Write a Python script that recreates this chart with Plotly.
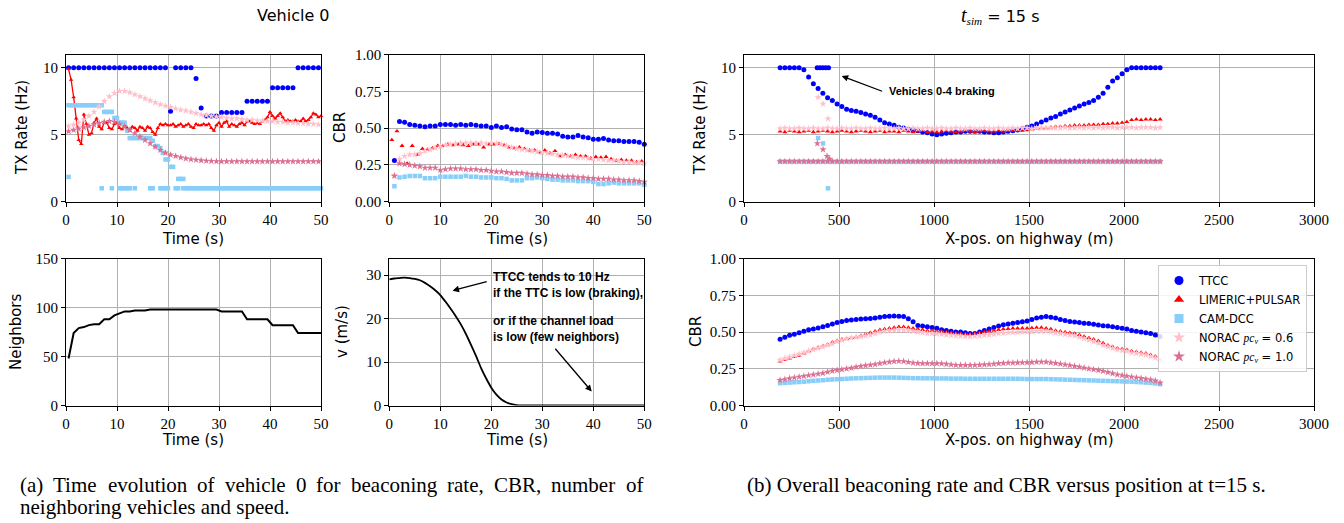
import plotly.graph_objects as go

# ---------------- data: vehicle 0, time evolution ----------------
TIME_1S = [0.5, 1.5, 2.5, 3.5, 4.5, 5.5, 6.5, 7.5, 8.5, 9.5, 10.5, 11.5, 12.5, 13.5, 14.5, 15.5, 16.5,
           17.5, 18.5, 19.5, 20.5, 21.5, 22.5, 23.5, 24.5, 25.5, 26.5, 27.5, 28.5, 29.5, 30.5, 31.5, 32.5,
           33.5, 34.5, 35.5, 36.5, 37.5, 38.5, 39.5, 40.5, 41.5, 42.5, 43.5, 44.5, 45.5, 46.5, 47.5, 48.5, 49.5]
TIME_HALF = [0.5, 1.0, 1.5, 2.0, 2.5, 3.0, 3.5, 4.0, 4.5, 5.0, 5.5, 6.0, 6.5, 7.0, 7.5, 8.0, 8.5, 9.0, 9.5, 10.0,
             10.5, 11.0, 11.5, 12.0, 12.5, 13.0, 13.5, 14.0, 14.5, 15.0, 15.5, 16.0, 16.5, 17.0, 17.5, 18.0, 18.5,
             19.0, 19.5, 20.0, 20.5, 21.0, 21.5, 22.0, 22.5, 23.0, 23.5, 24.0, 24.5, 25.0, 25.5, 26.0, 26.5, 27.0,
             27.5, 28.0, 28.5, 29.0, 29.5, 30.0, 30.5, 31.0, 31.5, 32.0, 32.5, 33.0, 33.5, 34.0, 34.5, 35.0, 35.5,
             36.0, 36.5, 37.0, 37.5, 38.0, 38.5, 39.0, 39.5, 40.0, 40.5, 41.0, 41.5, 42.0, 42.5, 43.0, 43.5, 44.0,
             44.5, 45.0, 45.5, 46.0, 46.5, 47.0, 47.5, 48.0, 48.5, 49.0, 49.5, 50.0]
TIME_CBR = [1, 2, 3, 4, 5, 6, 7, 8, 9, 10, 11, 12, 13, 14, 15, 16, 17, 18, 19, 20, 21, 22, 23, 24, 25,
            26, 27, 28, 29, 30, 31, 32, 33, 34, 35, 36, 37, 38, 39, 40, 41, 42, 43, 44, 45, 46, 47, 48, 49, 50]

TTCC_RATE_T = [10, 10, 10, 10, 10, 10, 10, 10, 10, 10, 10, 10, 10, 10, 10, 10, 10, 10, 10, 10,
               6.75, 10, 10, 10, 10, 9.2, 7.0, 6.4, 6.4, 6.4,
               6.65, 6.65, 6.65, 6.65, 6.65, 7.5, 7.5, 7.5, 7.5, 7.5,
               8.5, 8.5, 8.5, 8.5, 8.5, 10, 10, 10, 10, 10]
LIMERIC_RATE_T = [9.9, 9.1, 7.8, 6.2, 4.6, 4.3, 6.5, 5.8, 5.0, 5.1, 5.9, 6.2, 5.6, 5.4, 5.9, 5.9, 5.5, 5.4, 5.8, 5.9,
                  5.5, 5.4, 5.7, 5.5, 5.3, 5.6, 5.5, 5.3, 5.6, 5.5, 5.3, 5.6, 5.5, 5.2, 5.0, 5.5, 5.8, 5.7, 5.8, 5.7,
                  5.7, 5.8, 5.6, 5.7, 5.8, 5.6, 5.7, 5.8, 5.6, 5.5, 5.8, 5.7, 5.7, 5.8, 5.7, 5.8, 5.5, 5.3, 5.7, 5.9,
                  5.6, 5.9, 6.0, 5.6, 5.8, 5.7, 5.6, 5.8, 5.9, 5.7, 6.0, 6.0, 5.9, 5.8, 5.9, 5.8, 6.0, 6.1, 6.3, 6.7,
                  6.4, 6.2, 6.4, 6.6, 6.3, 6.0, 6.1, 6.0, 6.0, 6.1, 6.0, 6.0, 6.2, 6.0, 6.1, 6.3, 6.6, 6.5, 6.3, 6.4]
CAM_T = [0.5, 0.5, 1.0, 1.5, 2.0, 2.5, 3.0, 3.5, 4.0, 4.5, 5.0, 5.5, 6.0, 6.5, 7.0, 7.0, 7.5, 8.0, 8.5, 9.0, 9.0,
         9.5, 10.0, 10.5, 10.5, 11.0, 11.0, 11.5, 11.5, 12.0, 12.0, 12.5, 12.5, 13.0, 13.5, 13.5, 14.0, 14.5, 15.0,
         15.5, 16.0, 16.5, 16.5, 17.0, 17.0, 17.5, 18.0, 18.5, 18.5, 19.0, 19.0, 19.5, 19.5, 20.0, 20.0, 20.5, 21.0,
         21.5, 22.0, 22.0, 22.5, 23.0, 23.0,
         23.5, 24.0, 24.5, 25.0, 25.5, 26.0, 26.5, 27.0, 27.5, 28.0, 28.5, 29.0, 29.5, 30.0, 30.5, 31.0, 31.5, 32.0,
         32.5, 33.0, 33.5, 34.0, 34.5, 35.0, 35.5, 36.0, 36.5, 37.0, 37.5, 38.0, 38.5, 39.0, 39.5, 40.0, 40.5, 41.0,
         41.5, 42.0, 42.5, 43.0, 43.5, 44.0, 44.5, 45.0, 45.5, 46.0, 46.5, 47.0, 47.5, 48.0, 48.5, 49.0, 49.5, 50.0]
CAM_RATE_T = [7.2, 1.85, 7.2, 7.2, 7.2, 7.2, 7.2, 7.2, 7.2, 7.2, 7.2, 7.2, 7.2, 7.2, 7.2, 1.0, 6.7, 6.7, 6.7, 6.7, 1.0,
              6.25, 6.25, 5.9, 1.0, 5.9, 1.0, 5.9, 1.0, 5.3, 1.0, 4.75, 1.0, 4.75, 4.75, 1.0, 4.75, 4.75, 4.75,
              4.75, 4.75, 4.75, 1.0, 4.55, 1.0, 4.15, 4.15, 4.0, 1.0, 3.65, 1.0, 3.15, 1.0, 3.15, 1.0, 2.6, 2.6,
              1.0, 1.7, 1.0, 1.7, 1.7, 1.0,
              1.0, 1.0, 1.0, 1.0, 1.0, 1.0, 1.0, 1.0, 1.0, 1.0, 1.0, 1.0, 1.0, 1.0, 1.0, 1.0, 1.0, 1.0,
              1.0, 1.0, 1.0, 1.0, 1.0, 1.0, 1.0, 1.0, 1.0, 1.0, 1.0, 1.0, 1.0, 1.0, 1.0, 1.0, 1.0, 1.0,
              1.0, 1.0, 1.0, 1.0, 1.0, 1.0, 1.0, 1.0, 1.0, 1.0, 1.0, 1.0, 1.0, 1.0, 1.0, 1.0, 1.0, 1.0]
NORAC06_RATE_T = [5.65, 5.75, 5.9, 6.1, 6.4, 6.7, 7.1, 7.5, 7.85, 8.1,
                  8.25, 8.25, 8.15, 8.0, 7.85, 7.7, 7.55, 7.4, 7.25, 7.15,
                  7.05, 6.95, 6.85, 6.8, 6.7, 6.6, 6.5, 6.45, 6.4, 6.35,
                  6.3, 6.25, 6.2, 6.2, 6.15, 6.1, 6.1, 6.05, 6.05, 6.0,
                  6.0, 5.95, 5.95, 5.9, 5.9, 5.85, 5.85, 5.8, 5.8, 5.75]
NORAC10_RATE_T = [5.25, 5.35, 5.45, 5.55, 5.65, 5.75, 5.85, 5.95, 6.0, 5.95,
                  5.8, 5.6, 5.35, 5.1, 4.85, 4.6, 4.35, 4.1, 3.85, 3.65,
                  3.5, 3.4, 3.3, 3.22, 3.16, 3.12, 3.08, 3.05, 3.03, 3.01,
                  3.0, 3.0, 3.0, 3.0, 3.0, 3.0, 3.0, 3.0, 3.0, 3.0,
                  3.0, 3.0, 3.0, 3.0, 3.0, 3.0, 3.0, 3.0, 3.0, 3.0]

TTCC_CBR_T = [0.28, 0.545, 0.54, 0.525, 0.52, 0.515, 0.51, 0.515, 0.515, 0.525,
              0.525, 0.525, 0.52, 0.525, 0.52, 0.525, 0.52, 0.515, 0.515, 0.505,
              0.515, 0.505, 0.51, 0.495, 0.49, 0.49, 0.475, 0.465, 0.475, 0.47,
              0.465, 0.465, 0.46, 0.445, 0.44, 0.44, 0.45, 0.44, 0.435, 0.425,
              0.425, 0.43, 0.42, 0.415, 0.415, 0.41, 0.41, 0.41, 0.405, 0.39]
LIMERIC_CBR_T = [0.42, 0.48, 0.38, 0.26, 0.38, 0.32, 0.36, 0.355, 0.365, 0.38,
                 0.38, 0.39, 0.385, 0.39, 0.385, 0.38, 0.39, 0.39, 0.37, 0.39,
                 0.39, 0.395, 0.385, 0.37, 0.365, 0.37, 0.36, 0.35, 0.35, 0.335,
                 0.35, 0.33, 0.345, 0.31, 0.32, 0.31, 0.32, 0.31, 0.31, 0.295,
                 0.305, 0.3, 0.305, 0.29, 0.28, 0.285, 0.28, 0.28, 0.27, 0.275]
CAM_CBR_T = [0.105, 0.165, 0.17, 0.175, 0.175, 0.175, 0.16, 0.16, 0.16, 0.17,
             0.17, 0.17, 0.17, 0.17, 0.175, 0.17, 0.17, 0.165, 0.165, 0.165,
             0.16, 0.16, 0.155, 0.145, 0.145, 0.145, 0.16, 0.16, 0.165, 0.16,
             0.155, 0.15, 0.15, 0.145, 0.145, 0.145, 0.14, 0.14, 0.14, 0.135,
             0.12, 0.12, 0.125, 0.13, 0.125, 0.125, 0.125, 0.125, 0.125, 0.115]
NORAC06_CBR_T = [0.18, 0.29, 0.31, 0.32, 0.32, 0.33, 0.345, 0.355, 0.365, 0.375,
                 0.385, 0.39, 0.395, 0.4, 0.4, 0.4, 0.4, 0.4, 0.395, 0.4,
                 0.395, 0.39, 0.38, 0.37, 0.36, 0.355, 0.35, 0.345, 0.34, 0.335,
                 0.33, 0.325, 0.32, 0.315, 0.31, 0.305, 0.3, 0.3, 0.295, 0.29,
                 0.29, 0.285, 0.28, 0.28, 0.275, 0.27, 0.27, 0.265, 0.265, 0.26]
NORAC10_CBR_T = [0.175, 0.26, 0.255, 0.25, 0.245, 0.24, 0.23, 0.23, 0.23, 0.215,
                 0.22, 0.225, 0.225, 0.225, 0.22, 0.22, 0.22, 0.215, 0.215, 0.21,
                 0.205, 0.205, 0.2, 0.195, 0.195, 0.195, 0.19, 0.185, 0.185, 0.18,
                 0.18, 0.175, 0.175, 0.17, 0.17, 0.17, 0.165, 0.165, 0.16, 0.16,
                 0.155, 0.155, 0.155, 0.15, 0.15, 0.145, 0.145, 0.145, 0.14, 0.135]

NEIGH_T = TIME_1S + [50.0]
NEIGHBORS = [48, 74, 79, 80, 82, 83, 83, 88, 88, 92,
             94, 96, 96, 97, 97, 97, 98, 98, 98, 98,
             98, 98, 98, 98, 98, 98, 98, 98, 98, 98,
             96, 96, 96, 96, 96, 88, 88, 88, 88, 88,
             82, 82, 82, 82, 82, 74, 74, 74, 74, 74, 74]
SPEED_T = [0, 1, 2, 3, 4, 5, 6, 7, 8, 9, 10, 11, 12, 13, 14, 15, 16, 17, 18, 19, 20, 21, 22, 23, 24, 25,
           26, 27, 28, 29, 30, 31, 32, 33, 34, 35, 36, 37, 38, 39, 40, 41, 42, 43, 44, 45, 46, 47, 48, 49, 50]
SPEED = [29.0, 29.2, 29.3, 29.4, 29.3, 29.1, 28.8, 28.2, 27.4, 26.5,
         25.4, 23.9, 22.3, 20.6, 18.7, 16.5, 14.0, 11.4, 8.6, 6.2,
         4.1, 2.5, 1.4, 0.7, 0.3, 0.1, 0.03, 0, 0, 0,
         0, 0, 0, 0, 0, 0, 0, 0, 0, 0,
         0, 0, 0, 0, 0, 0, 0, 0, 0, 0, 0]

# ---------------- data: all vehicles at t_sim = 15 s ----------------
POS = [190, 215, 240, 265, 290, 315, 340, 365, 390, 415, 440, 465, 490, 515, 540, 565, 590, 615, 640, 665,
       690, 715, 740, 765, 790, 815, 840, 865, 890, 915, 940, 965, 990, 1015, 1040, 1065, 1090, 1115, 1140, 1165,
       1190, 1215, 1240, 1265, 1290, 1315, 1340, 1365, 1390, 1415, 1440, 1465, 1490, 1515, 1540, 1565, 1590, 1615,
       1640, 1665, 1690, 1715, 1740, 1765, 1790, 1815, 1840, 1865, 1890, 1915, 1940, 1965, 1990, 2015, 2040, 2065,
       2090, 2115, 2140, 2165, 2190]
TTCC_RATE_X = [10, 10, 10, 10, 10, 9.85, 9.3, 8.8, 8.45, 8.1,
               7.75, 7.55, 7.3, 7.1, 6.9, 6.8, 6.75, 6.65, 6.55, 6.45,
               6.3, 6.1, 5.9, 5.8, 5.7, 5.55, 5.5, 5.4, 5.35, 5.3,
               5.2, 5.15, 5.05, 5.0, 5.05, 5.1, 5.15, 5.2, 5.2, 5.25,
               5.25, 5.25, 5.25, 5.2, 5.2, 5.15, 5.15, 5.2, 5.25, 5.3,
               5.35, 5.45, 5.55, 5.65, 5.8, 5.95, 6.1, 6.25, 6.35, 6.55,
               6.7, 6.85, 7.0, 7.15, 7.3, 7.4, 7.55, 7.8, 8.1, 8.55,
               9.0, 9.25, 9.55, 9.85, 10, 10, 10, 10, 10, 10, 10]
LIMERIC_RATE_X = [5.25, 5.2, 5.3, 5.25, 5.2, 5.25, 5.3, 5.2, 5.25, 5.3,
                  5.25, 5.2, 5.25, 5.3, 5.25, 5.2, 5.25, 5.3, 5.25, 5.2,
                  5.25, 5.3, 5.2, 5.25, 5.25, 5.2, 5.3, 5.25, 5.2, 5.25,
                  5.3, 5.2, 5.25, 5.2, 5.25, 5.3, 5.25, 5.2, 5.25, 5.3,
                  5.25, 5.2, 5.25, 5.3, 5.25, 5.25, 5.3, 5.25, 5.3, 5.3,
                  5.3, 5.3, 5.35, 5.4, 5.45, 5.5, 5.5, 5.55, 5.6, 5.6,
                  5.65, 5.65, 5.7, 5.7, 5.7, 5.75, 5.75, 5.75, 5.8, 5.8,
                  5.85, 5.85, 5.9, 5.95, 6.1, 6.15, 6.1, 6.15, 6.15, 6.1, 6.15]
CAM_RATE_X = [3.0, 3.0, 3.0, 3.0, 3.0, 3.0, 3.0, 3.0, 3.0, 3.0, 3.0, 3.0, 3.0, 3.0, 3.0, 3.0, 3.0, 3.0, 3.0, 3.0,
              3.0, 3.0, 3.0, 3.0, 3.0, 3.0, 3.0, 3.0, 3.0, 3.0, 3.0, 3.0, 3.0, 3.0, 3.0, 3.0, 3.0, 3.0, 3.0, 3.0,
              3.0, 3.0, 3.0, 3.0, 3.0, 3.0, 3.0, 3.0, 3.0, 3.0, 3.0, 3.0, 3.0, 3.0, 3.0, 3.0, 3.0, 3.0, 3.0, 3.0,
              3.0, 3.0, 3.0, 3.0, 3.0, 3.0, 3.0, 3.0, 3.0, 3.0, 3.0, 3.0, 3.0, 3.0, 3.0, 3.0, 3.0, 3.0, 3.0, 3.0, 3.0]
NORAC06_RATE_X = [5.45, 5.5, 5.45, 5.45, 5.5, 5.45, 5.45, 5.5, 5.45, 5.45,
                  5.5, 5.45, 5.45, 5.5, 5.45, 5.45, 5.5, 5.45, 5.45, 5.5,
                  5.45, 5.45, 5.5, 5.45, 5.45, 5.5, 5.45, 5.45, 5.5, 5.45,
                  5.45, 5.5, 5.45, 5.45, 5.5, 5.45, 5.45, 5.5, 5.45, 5.45,
                  5.5, 5.45, 5.45, 5.5, 5.45, 5.45, 5.5, 5.45, 5.45, 5.5,
                  5.45, 5.5, 5.5, 5.45, 5.5, 5.5, 5.5, 5.5, 5.5, 5.5,
                  5.55, 5.5, 5.5, 5.55, 5.5, 5.55, 5.5, 5.55, 5.5, 5.55,
                  5.55, 5.5, 5.55, 5.55, 5.55, 5.5, 5.55, 5.55, 5.55, 5.5, 5.55]
NORAC10_RATE_X = [3.0, 3.0, 3.0, 3.0, 3.0, 3.0, 3.0, 3.0, 3.0, 3.0, 3.0, 3.0, 3.0, 3.0, 3.0, 3.0, 3.0, 3.0, 3.0, 3.0,
                  3.0, 3.0, 3.0, 3.0, 3.0, 3.0, 3.0, 3.0, 3.0, 3.0, 3.0, 3.0, 3.0, 3.0, 3.0, 3.0, 3.0, 3.0, 3.0, 3.0,
                  3.0, 3.0, 3.0, 3.0, 3.0, 3.0, 3.0, 3.0, 3.0, 3.0, 3.0, 3.0, 3.0, 3.0, 3.0, 3.0, 3.0, 3.0, 3.0, 3.0,
                  3.0, 3.0, 3.0, 3.0, 3.0, 3.0, 3.0, 3.0, 3.0, 3.0, 3.0, 3.0, 3.0, 3.0, 3.0, 3.0, 3.0, 3.0, 3.0, 3.0, 3.0]
# braking vehicles 0-4
BRK_TTCC_POS = [385, 400, 415, 430, 445]
BRK_TTCC_RATE = [10, 10, 10, 10, 10]
BRK_N06_POS = [390, 416, 442]
BRK_N06_RATE = [7.8, 7.3, 6.2]
BRK_N10_POS = [386, 416, 437, 451]
BRK_N10_RATE = [4.35, 3.9, 3.4, 3.2]
BRK_CAM_POS = [390, 416, 442]
BRK_CAM_RATE = [4.75, 4.35, 1.0]

TTCC_CBR_X = [0.45, 0.465, 0.478, 0.485, 0.495, 0.505, 0.515, 0.52, 0.528, 0.535,
              0.545, 0.555, 0.565, 0.572, 0.578, 0.582, 0.585, 0.588, 0.59, 0.592,
              0.595, 0.6, 0.605, 0.607, 0.608, 0.607, 0.605, 0.59, 0.57, 0.545,
              0.54, 0.535, 0.53, 0.525, 0.515, 0.51, 0.505, 0.5, 0.5, 0.495,
              0.49, 0.49, 0.5, 0.51, 0.52, 0.53, 0.54, 0.55, 0.555, 0.56,
              0.565, 0.57, 0.575, 0.585, 0.595, 0.6, 0.605, 0.6, 0.595, 0.585,
              0.578, 0.572, 0.568, 0.565, 0.56, 0.558, 0.552, 0.548, 0.542, 0.54,
              0.535, 0.53, 0.525, 0.52, 0.51, 0.505, 0.5, 0.495, 0.49, 0.48, 0.47]
LIMERIC_CBR_X = [0.3, 0.31, 0.32, 0.33, 0.34, 0.355, 0.37, 0.385, 0.395, 0.405,
                 0.415, 0.43, 0.44, 0.45, 0.455, 0.46, 0.465, 0.475, 0.485, 0.495,
                 0.505, 0.515, 0.52, 0.525, 0.53, 0.535, 0.535, 0.53, 0.525, 0.52,
                 0.515, 0.51, 0.51, 0.505, 0.505, 0.5, 0.495, 0.49, 0.49, 0.485,
                 0.485, 0.49, 0.495, 0.5, 0.505, 0.51, 0.515, 0.52, 0.522, 0.525,
                 0.525, 0.525, 0.525, 0.528, 0.53, 0.53, 0.525, 0.52, 0.51, 0.505,
                 0.5, 0.495, 0.49, 0.48, 0.47, 0.46, 0.45, 0.44, 0.425, 0.41,
                 0.4, 0.39, 0.385, 0.38, 0.37, 0.365, 0.36, 0.355, 0.345, 0.335, 0.31]
CAM_CBR_X = [0.152, 0.154, 0.156, 0.158, 0.16, 0.162, 0.165, 0.168, 0.17, 0.172,
             0.175, 0.177, 0.179, 0.18, 0.182, 0.184, 0.185, 0.186, 0.187, 0.188,
             0.189, 0.19, 0.19, 0.19, 0.19, 0.189, 0.188, 0.187, 0.186, 0.186,
             0.185, 0.185, 0.185, 0.184, 0.184, 0.184, 0.183, 0.183, 0.183, 0.182,
             0.182, 0.182, 0.182, 0.182, 0.182, 0.182, 0.182, 0.182, 0.182, 0.182,
             0.182, 0.181, 0.18, 0.18, 0.18, 0.18, 0.18, 0.179, 0.178, 0.177,
             0.176, 0.175, 0.174, 0.173, 0.172, 0.171, 0.17, 0.169, 0.168, 0.167,
             0.166, 0.165, 0.164, 0.163, 0.162, 0.16, 0.158, 0.156, 0.154, 0.15, 0.145]
NORAC06_CBR_X = [0.31, 0.32, 0.33, 0.34, 0.35, 0.36, 0.37, 0.38, 0.39, 0.4,
                 0.41, 0.42, 0.435, 0.445, 0.455, 0.46, 0.465, 0.47, 0.475, 0.48,
                 0.49, 0.5, 0.505, 0.51, 0.512, 0.515, 0.515, 0.51, 0.505, 0.5,
                 0.495, 0.49, 0.49, 0.488, 0.485, 0.48, 0.478, 0.475, 0.472, 0.47,
                 0.47, 0.472, 0.475, 0.478, 0.48, 0.485, 0.49, 0.492, 0.495, 0.497,
                 0.498, 0.5, 0.5, 0.502, 0.505, 0.505, 0.505, 0.5, 0.495, 0.49,
                 0.485, 0.48, 0.475, 0.465, 0.455, 0.445, 0.435, 0.425, 0.41, 0.4,
                 0.39, 0.38, 0.375, 0.37, 0.36, 0.355, 0.35, 0.345, 0.335, 0.325, 0.3]
NORAC10_CBR_X = [0.172, 0.178, 0.184, 0.19, 0.195, 0.2, 0.205, 0.21, 0.215, 0.22,
                 0.228, 0.235, 0.24, 0.245, 0.25, 0.255, 0.262, 0.268, 0.272, 0.276,
                 0.28, 0.286, 0.292, 0.296, 0.3, 0.302, 0.3, 0.295, 0.29, 0.287,
                 0.286, 0.286, 0.286, 0.286, 0.285, 0.282, 0.278, 0.275, 0.274, 0.274,
                 0.274, 0.275, 0.276, 0.278, 0.28, 0.283, 0.286, 0.288, 0.29, 0.29,
                 0.291, 0.292, 0.293, 0.294, 0.296, 0.297, 0.296, 0.292, 0.288, 0.283,
                 0.278, 0.273, 0.268, 0.262, 0.256, 0.25, 0.245, 0.24, 0.234, 0.226,
                 0.218, 0.21, 0.205, 0.2, 0.195, 0.19, 0.185, 0.18, 0.175, 0.168, 0.155]

SERIF_ITALIC = '<span style="font-family:Liberation Serif"><i>%s</i></span>'
LEGEND_NAMES = ["TTCC", "LIMERIC+PULSAR", "CAM-DCC",
                "NORAC " + SERIF_ITALIC % "pc<sub>v</sub>" + " = 0.6",
                "NORAC " + SERIF_ITALIC % "pc<sub>v</sub>" + " = 1.0"]
COLORS = ["#0000ff", "#ff0000", "#87cefa", "#ffc0cb", "#db7093"]
SYMBOLS = ["circle", "triangle-up", "square", "star", "star"]
SIZES = [5, 4.5, 4.5, 5.5, 5.5]

# caption (a), first line is justified in the reference: words and their left edges (px)
CAPTION_A1 = ["(a)", "Time", "evolution", "of", "vehicle", "0", "for", "beaconing", "rate,", "CBR,", "number", "of"]
CAPTION_A1_X = [18, 51.4, 105.8, 195.2, 222.8, 293.5, 314.1, 348.7, 445.1, 491.9, 549.3, 623.6]
CAPTION_A2 = "neighboring vehicles and speed."
CAPTION_B = "(b) Overall beaconing rate and CBR versus position at t=15 s."

# ---------------- figure geometry ----------------
W, H = 1344, 523


def dom_x(a, b):
    return [a / W, b / W]


def dom_y(top, bottom):
    return [1 - bottom / H, 1 - top / H]


TICKFONT = dict(family="Liberation Serif", size=15, color="black")
LABELFONT = dict(family="DejaVu Sans", size=15, color="black")


def axis(domain, anchor, rng, tickvals, fmt=None):
    d = dict(domain=domain, anchor=anchor, range=rng, tickvals=tickvals, showline=True, mirror=True,
             linecolor="black", linewidth=1, ticks="outside", ticklen=4, tickwidth=1, tickcolor="black",
             showgrid=True, gridcolor="#b0b0b0", gridwidth=1, zeroline=False, tickfont=TICKFONT,
             fixedrange=True, automargin=False)
    if fmt:
        d["tickformat"] = fmt
    return d


XL1 = dom_x(66, 321)
XL2 = dom_x(389.3, 644.3)
XR = dom_x(744, 1314)
YT = dom_y(54.7, 201.7)
YB = dom_y(258.5, 405.5)

fig = go.Figure()


def sc(x, y, i, ax, size=None, show=False, mode="markers", lw=0):
    fig.add_trace(go.Scatter(x=x, y=y, mode=mode, xaxis="x" + ax, yaxis="y" + ax, name=LEGEND_NAMES[i],
                             showlegend=show, cliponaxis=False,
                             line=dict(color=COLORS[i], width=lw or 1),
                             marker=dict(symbol=SYMBOLS[i], color=COLORS[i], size=size or SIZES[i],
                                         line=dict(width=0))))


# panel 1: TX rate vs time
sc(TIME_1S, TTCC_RATE_T, 0, "")
sc(TIME_HALF, LIMERIC_RATE_T, 1, "", size=4, mode="lines+markers", lw=1.3)
sc(CAM_T, CAM_RATE_T, 2, "")
sc(TIME_1S, NORAC06_RATE_T, 3, "")
sc(TIME_1S, NORAC10_RATE_T, 4, "")
# panel 2: CBR vs time
sc(TIME_CBR, TTCC_CBR_T, 0, "2")
sc(TIME_1S, LIMERIC_CBR_T, 1, "2")
sc(TIME_CBR, CAM_CBR_T, 2, "2")
sc(TIME_CBR, NORAC06_CBR_T, 3, "2")
sc(TIME_CBR, NORAC10_CBR_T, 4, "2")
# panel 3: neighbors
fig.add_trace(go.Scatter(x=NEIGH_T, y=NEIGHBORS, mode="lines", xaxis="x3", yaxis="y3", showlegend=False,
                         line=dict(color="black", width=2)))
# panel 4: speed
fig.add_trace(go.Scatter(x=SPEED_T, y=SPEED, mode="lines", xaxis="x4", yaxis="y4", showlegend=False,
                         line=dict(color="black", width=1.8, shape="spline", smoothing=0.6)))
# panel 5: TX rate vs position
sc(POS, TTCC_RATE_X, 0, "5")
sc(BRK_TTCC_POS, BRK_TTCC_RATE, 0, "5")
sc(POS, LIMERIC_RATE_X, 1, "5")
sc(POS, CAM_RATE_X, 2, "5")
sc(BRK_CAM_POS, BRK_CAM_RATE, 2, "5")
sc(POS, NORAC06_RATE_X, 3, "5")
sc(BRK_N06_POS, BRK_N06_RATE, 3, "5")
sc(POS, NORAC10_RATE_X, 4, "5")
sc(BRK_N10_POS, BRK_N10_RATE, 4, "5")
# panel 6: CBR vs position
sc(POS, TTCC_CBR_X, 0, "6")
sc(POS, LIMERIC_CBR_X, 1, "6")
sc(POS, CAM_CBR_X, 2, "6")
sc(POS, NORAC06_CBR_X, 3, "6")
sc(POS, NORAC10_CBR_X, 4, "6")
# legend entries
for i in range(5):
    sc([None], [None], i, "6", size=9, show=True)

TIME_TICKS = [0, 10, 20, 30, 40, 50]
POS_TICKS = [0, 500, 1000, 1500, 2000, 2500, 3000]
CBR_TICKS = [0, 0.25, 0.5, 0.75, 1.0]

layout = dict(
    width=W, height=H, margin=dict(l=0, r=0, t=0, b=0),
    paper_bgcolor="white", plot_bgcolor="white",
    xaxis=axis(XL1, "y", [0, 50], TIME_TICKS), yaxis=axis(YT, "x", [0, 10.97], [0, 5, 10]),
    xaxis2=axis(XL2, "y2", [0, 50], TIME_TICKS), yaxis2=axis(YT, "x2", [0, 1], CBR_TICKS, ".2f"),
    xaxis3=axis(XL1, "y3", [0, 50], TIME_TICKS), yaxis3=axis(YB, "x3", [0, 150], [0, 50, 100, 150]),
    xaxis4=axis(XL2, "y4", [0, 50], TIME_TICKS), yaxis4=axis(YB, "x4", [0, 33.8], [0, 10, 20, 30]),
    xaxis5=axis(XR, "y5", [0, 3000], POS_TICKS), yaxis5=axis(YT, "x5", [0, 10.97], [0, 5, 10]),
    xaxis6=axis(XR, "y6", [0, 3000], POS_TICKS), yaxis6=axis(YB, "x6", [0, 1], CBR_TICKS, ".2f"),
    legend=dict(x=1307 / W, xanchor="right", y=1 - 265 / H, yanchor="top", bgcolor="rgba(255,255,255,0.85)",
                bordercolor="#cccccc", borderwidth=1, font=dict(family="DejaVu Sans", size=11.5, color="black"),
                itemsizing="trace", tracegroupgap=0),
)
fig.update_layout(**layout)


def txt(text, x, y, font=None, angle=0, xanchor="center"):
    fig.add_annotation(text=text, x=x / W, y=1 - y / H, xref="paper", yref="paper", showarrow=False,
                       textangle=angle, font=font or LABELFONT, xanchor=xanchor, yanchor="middle")


# axis titles
txt("TX Rate (Hz)", 22, 128, angle=-90)
txt("CBR", 340, 128, angle=-90)
txt("Neighbors", 16, 332, angle=-90)
txt("v (m/s)", 342, 332, angle=-90)
txt("TX Rate (Hz)", 700, 128, angle=-90)
txt("CBR", 696, 332, angle=-90)
for xc in (193.5, 516.8):
    txt("Time (s)", xc, 239)
    txt("Time (s)", xc, 440)
txt("X-pos. on highway (m)", 1029, 239)
txt("X-pos. on highway (m)", 1029, 440)

# headers
HEADFONT = dict(family="DejaVu Sans", size=16, color="black")
txt("Vehicle 0", 293, 16, font=HEADFONT)
txt('<span style="font-family:Liberation Serif;font-size:20px"><i>t</i></span>'
    '<sub><span style="font-family:Liberation Serif"><i>sim</i></span></sub> = 15 s', 1000, 16, font=HEADFONT)

# captions
CAPFONT = dict(family="Liberation Serif", size=21, color="black")
for word, xw in zip(CAPTION_A1, CAPTION_A1_X):
    txt(word, xw, 485, font=CAPFONT, xanchor="left")
txt(CAPTION_A2, 18, 507, font=CAPFONT, xanchor="left")
txt(CAPTION_B, 1006, 485, font=CAPFONT)

# in-plot notes
NOTEFONT = dict(family="Liberation Sans", size=12, color="black")
fig.add_annotation(text="<b>TTCC tends to 10 Hz<br>if the TTC is low (braking),</b>", x=19.9, y=27.6,
                   xref="x4", yref="y4", showarrow=False, xanchor="left", yanchor="middle", align="left",
                   font=NOTEFONT)
fig.add_annotation(text="<b>or if the channel load<br>is low (few neighbors)</b>", x=19.9, y=17.6,
                   xref="x4", yref="y4", showarrow=False, xanchor="left", yanchor="middle", align="left",
                   font=NOTEFONT)
fig.add_annotation(text="<b>Vehicles 0-4 braking</b>", x=752, y=8.25, xref="x5", yref="y5", showarrow=False,
                   xanchor="left", yanchor="middle", font=dict(family="Liberation Sans", size=11, color="black"))

ARROW = dict(showarrow=True, arrowhead=2, arrowsize=1, arrowwidth=1.3, arrowcolor="black", text="",
             standoff=0, startstandoff=0)
fig.add_annotation(x=12.4, y=26.4, ax=19.4, ay=28.6, xref="x4", yref="y4", axref="x4", ayref="y4", **ARROW)
fig.add_annotation(x=39.7, y=3.2, ax=32.3, ay=13.4, xref="x4", yref="y4", axref="x4", ayref="y4", **ARROW)
fig.add_annotation(x=514, y=9.38, ax=735, ay=8.2, xref="x5", yref="y5", axref="x5", ayref="y5", **ARROW)

fig.write_html("out.html", config={"displayModeBar": False},
               post_script="document.body.style.margin='0px';document.body.style.overflow='hidden';")
